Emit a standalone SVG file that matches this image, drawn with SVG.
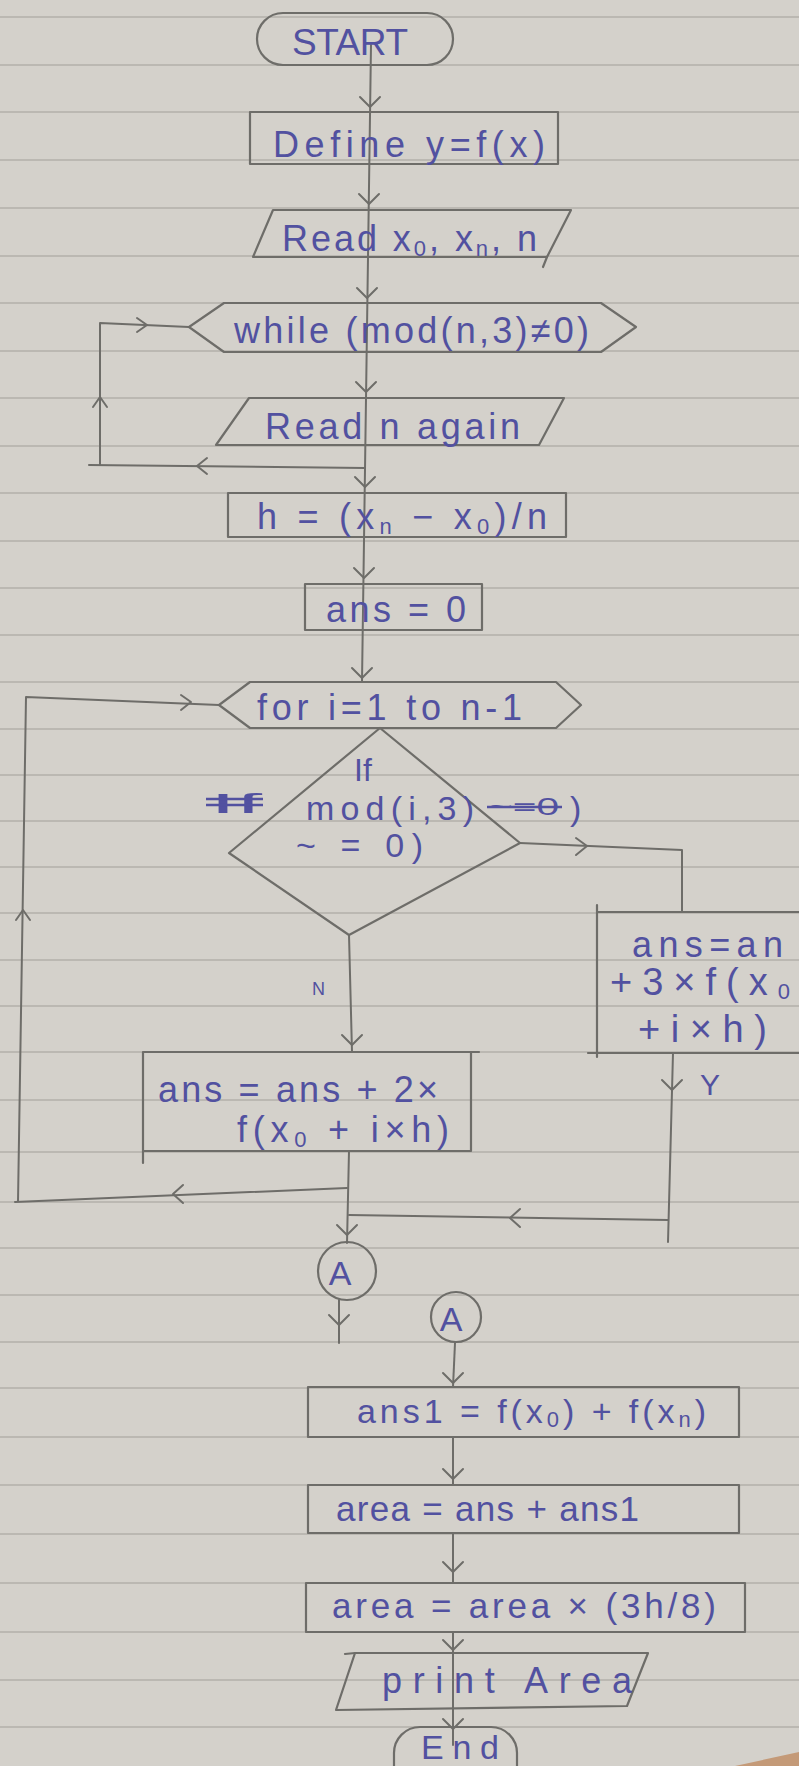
<svg xmlns="http://www.w3.org/2000/svg" width="799" height="1766" viewBox="0 0 799 1766">
<style>
.bg{fill:#d4d1cb}
.rule{stroke:#b3b0aa;stroke-width:1.6}
.shape{fill:none;stroke:#6e6d69;stroke-width:2.2;stroke-linejoin:round;stroke-linecap:round}
.con{fill:none;stroke:#6e6d69;stroke-width:2;stroke-linecap:round;stroke-linejoin:round}
.t{font-family:"Liberation Sans",Arial,sans-serif;font-size:36px;fill:#5251a0}
.s{font-size:22px}
.strike{stroke:#5251a0;stroke-width:2.5}
</style>
<defs>
<path id="chev" d="M -10 -10 L 0 0 L 10 -10" class="con"/>
</defs>
<rect class="bg" x="0" y="0" width="799" height="1766"/>
<g id="paper-lines">
<path class="rule" d="M0 17H799M0 65H799M0 112H799M0 160H799M0 208H799M0 256H799M0 303H799M0 351H799M0 398H799M0 446H799M0 493H799M0 541H799M0 588H799M0 635H799M0 682H799M0 729H799M0 775H799M0 821H799M0 867H799M0 913H799M0 960H799M0 1006H799M0 1052H799M0 1100H799M0 1152H799M0 1202H799M0 1248H799M0 1295H799M0 1342H799M0 1388H799M0 1437H799M0 1485H799M0 1534H799M0 1583H799M0 1632H799M0 1680H799M0 1727H799"/>
</g>
<polygon points="735,1766 799,1752 799,1766" fill="#c49a78"/>

<g id="connectors">
<line class="con" x1="371" y1="45" x2="362" y2="682"/>
<use href="#chev" x="370" y="107"/>
<use href="#chev" x="369" y="204"/>
<use href="#chev" x="367" y="298"/>
<use href="#chev" x="366" y="392"/>
<use href="#chev" x="365" y="487"/>
<use href="#chev" x="364" y="578"/>
<use href="#chev" x="362" y="678"/>
<path class="con" d="M365 468 L89 465 M100 465 L100 323 L189 327"/>
<path class="con" d="M207 458 L197 466 L207 474"/>
<path class="con" d="M93 407 L100 397 L107 407"/>
<path class="con" d="M137 318 L147 325 L137 332"/>
<line class="con" x1="349" y1="935" x2="352" y2="1052"/>
<use href="#chev" x="352" y="1045"/>
<text class="t" x="312" y="995" style="font-size:18px">N</text>
<path class="con" d="M520 843 L682 850 L682 912"/>
<path class="con" d="M576 838 L587 846 L576 855"/>
<path class="con" d="M673 1053 L668 1242"/>
<use href="#chev" x="672" y="1090"/>
<text class="t" x="700" y="1095" style="font-size:30px">Y</text>
<path class="con" d="M668 1220 L349 1215"/>
<path class="con" d="M520 1209 L510 1218 L520 1227"/>
<path class="con" d="M349 1151 L347 1243"/>
<use href="#chev" x="347" y="1235"/>
<path class="con" d="M347 1188 L15 1202 M18 1202 L26 697 L219 705"/>
<path class="con" d="M183 1185 L173 1194 L183 1203"/>
<path class="con" d="M16 920 L23 910 L30 920"/>
<path class="con" d="M181 695 L191 702 L181 710"/>
<line class="con" x1="339" y1="1300" x2="339" y2="1343"/>
<use href="#chev" x="339" y="1325"/>
<line class="con" x1="455" y1="1343" x2="453" y2="1387"/>
<use href="#chev" x="453" y="1383"/>
<line class="con" x1="453" y1="1437" x2="453" y2="1485"/>
<use href="#chev" x="453" y="1479"/>
<line class="con" x1="453" y1="1533" x2="453" y2="1583"/>
<use href="#chev" x="453" y="1572"/>
<line class="con" x1="453" y1="1632" x2="453" y2="1745"/>
<use href="#chev" x="453" y="1650"/>
<use href="#chev" x="453" y="1729"/>
</g>

<g id="start">
<rect class="shape" x="257" y="13" width="196" height="52" rx="26"/>
<text class="t" x="292" y="55" textLength="116" style="font-size:37px">START</text>
</g>
<g id="define">
<rect class="shape" x="250" y="112" width="308" height="52"/>
<text class="t" x="273" y="157" textLength="272">Define y=f(x)</text>
</g>
<g id="read1">
<polygon class="shape" points="273,210 571,210 547,257 253,257"/>
<path class="shape" d="M547 257 L543 267"/>
<text class="t" x="282" y="251" textLength="255">Read x<tspan class="s" dy="5">0</tspan><tspan dy="-5">, x</tspan><tspan class="s" dy="5">n</tspan><tspan dy="-5">, n</tspan></text>
</g>
<g id="while">
<polygon class="shape" points="189,327 224,303 601,303 636,327 601,352 224,352"/>
<text class="t" x="234" y="343" textLength="355">while (mod(n,3)≠0)</text>
</g>
<g id="read2">
<polygon class="shape" points="249,398 564,398 539,445 216,445"/>
<text class="t" x="265" y="439" textLength="255">Read n again</text>
</g>
<g id="h">
<rect class="shape" x="228" y="493" width="338" height="44"/>
<text class="t" x="257" y="529" textLength="290">h = (x<tspan class="s" dy="5">n</tspan><tspan dy="-5"> − x</tspan><tspan class="s" dy="5">0</tspan><tspan dy="-5">)/n</tspan></text>
</g>
<g id="ans0">
<rect class="shape" x="305" y="584" width="177" height="46"/>
<text class="t" x="326" y="622" textLength="140">ans = 0</text>
</g>
<g id="for">
<polygon class="shape" points="219,705 250,682 556,682 581,705 556,728 250,728"/>
<text class="t" x="257" y="720" textLength="265">for i=1 to n-1</text>
</g>
<g id="decision">
<polygon class="shape" points="380,728 520,843 349,935 229,853"/>
<text class="t" x="354" y="781" style="font-size:32px">If</text>
<text class="t" x="210" y="813" textLength="52" lengthAdjust="spacingAndGlyphs" style="font-size:28px">If</text>
<path class="strike" d="M206 799 L263 799 M206 805 L263 805"/>
<text class="t" x="306" y="820" textLength="168" style="font-size:34px">mod(i,3)</text>
<text class="t" x="489" y="815" textLength="70" lengthAdjust="spacingAndGlyphs" style="font-size:24px">~=0</text>
<path class="strike" d="M487 807 L562 807"/>
<text class="t" x="570" y="820" style="font-size:34px">)</text>
<text class="t" x="296" y="857" textLength="127" style="font-size:34px">~ = 0)</text>
</g>
<g id="yes-box">
<path class="shape" d="M597 905 L597 1057 M597 912 L800 912 M588 1053 L800 1053"/>
<text class="t" x="632" y="957" textLength="151">ans=an</text>
<text class="t" x="610" y="995" textLength="180" style="font-size:38px">+3×f(x<tspan class="s" dy="4">0</tspan></text>
<text class="t" x="638" y="1042" textLength="129" style="font-size:38px">+i×h)</text>
</g>
<g id="no-box">
<path class="shape" d="M143 1052 L479 1052 M471 1052 L471 1151 L143 1151 M143 1052 L143 1163"/>
<text class="t" x="158" y="1102" textLength="280">ans = ans + 2×</text>
<text class="t" x="237" y="1142" textLength="212">f(x<tspan class="s" dy="5">0</tspan><tspan dy="-5"> + i×h)</tspan></text>
</g>
<g id="conn-a1">
<ellipse class="shape" cx="347" cy="1271" rx="29" ry="29"/>
<text class="t" x="340" y="1285" text-anchor="middle" style="font-size:34px">A</text>
</g>
<g id="conn-a2">
<ellipse class="shape" cx="456" cy="1317" rx="25" ry="25"/>
<text class="t" x="451" y="1331" text-anchor="middle" style="font-size:34px">A</text>
</g>
<g id="ans1">
<rect class="shape" x="308" y="1387" width="431" height="50"/>
<text class="t" x="357" y="1423" textLength="349" style="font-size:34px">ans1 = f(x<tspan class="s" dy="4">0</tspan><tspan dy="-4">) + f(x</tspan><tspan class="s" dy="4">n</tspan><tspan dy="-4">)</tspan></text>
</g>
<g id="area1">
<rect class="shape" x="308" y="1485" width="431" height="48"/>
<text class="t" x="336" y="1521" textLength="303" style="font-size:35px">area = ans + ans1</text>
</g>
<g id="area2">
<rect class="shape" x="306" y="1583" width="439" height="49"/>
<text class="t" x="332" y="1618" textLength="384" style="font-size:35px">area = area × (3h/8)</text>
</g>
<g id="print">
<polygon class="shape" points="355,1653 648,1653 627,1706 336,1710"/>
<path class="shape" d="M345 1654 L355 1653"/>
<text class="t" x="382" y="1693" textLength="250" style="font-size:36px">print Area</text>
</g>
<g id="end">
<rect class="shape" x="394" y="1727" width="123" height="70" rx="26"/>
<text class="t" x="421" y="1759" textLength="78" style="font-size:34px">End</text>
</g>
</svg>
